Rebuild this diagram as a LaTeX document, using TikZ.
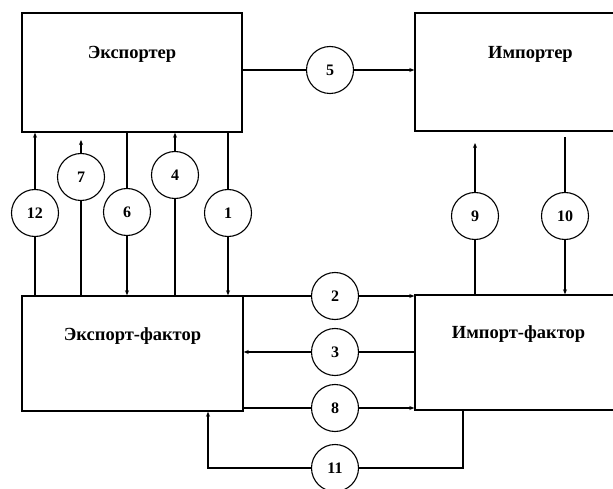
\documentclass[tikz,border=0pt]{standalone}
\usepackage{fontspec}
\setmainfont{Liberation Serif}
\usetikzlibrary{arrows.meta}
\begin{document}
\begin{tikzpicture}[x=1pt,y=-1pt,
  box/.style={draw, line width=1.4pt, rectangle, inner sep=0pt},
  lbl/.style={font=\bfseries\fontsize{18.5}{21}\selectfont, anchor=center},
  num/.style={draw, line width=1.1pt, circle, minimum size=47pt, inner sep=0pt, fill=white,
    font=\bfseries\fontsize{16}{18}\selectfont},
  conn/.style={line width=1.3pt},
  arr/.style={line width=1.3pt, -{Stealth[length=5pt,width=4pt]}}]
\clip (0,0) rectangle (613,489);
\fill[white] (0,0) rectangle (613,489);
% boxes
\node[box, minimum width=220pt, minimum height=119pt,
  label={[lbl, yshift=-42pt]north:Экспортер}] (exp) at (132,72.5) {};
\node[box, minimum width=235pt, minimum height=118pt,
  label={[lbl, yshift=-42pt, xshift=-2pt]north:Импортер}] (imp) at (532.5,72) {};
\node[box, minimum width=221pt, minimum height=115pt,
  label={[lbl, yshift=-41pt]north:Экспорт-фактор}] (ef) at (132.5,353.5) {};
\node[box, minimum width=235pt, minimum height=115pt,
  label={[lbl, yshift=-40pt, xshift=-14pt]north:Импорт-фактор}] (if) at (532.5,352.5) {};
% circles
\node[num] (c5) at (330,70) {5};
\node[num] (c12) at (35,213) {12};
\node[num] (c7) at (81,177) {7};
\node[num] (c6) at (127,212) {6};
\node[num] (c4) at (175,175) {4};
\node[num] (c1) at (228,213) {1};
\node[num] (c9) at (475,216) {9};
\node[num] (c10) at (565,216) {10};
\node[num] (c2) at (335,296) {2};
\node[num] (c3) at (335,352) {3};
\node[num] (c8) at (335,408) {8};
\node[num] (c11) at (335,468) {11};
\coordinate (a7) at (81,140);
\coordinate (a9) at (475,143);
\coordinate (a10) at (565,137);
\coordinate (k1) at (463,0);
\coordinate (k2) at (208,0);
% connectors
\draw[conn] (exp.east |- c5) -- (c5);
\draw[arr] (c5) -- (c5 -| imp.west);
\draw[conn] (c12 |- ef.north) -- (c12);
\draw[arr] (c12) -- (c12 |- exp.south);
\draw[conn] (c7 |- ef.north) -- (c7);
\draw[arr] (c7) -- (a7);
\draw[conn] (c6 |- exp.south) -- (c6);
\draw[arr] (c6) -- (c6 |- ef.north);
\draw[conn] (c4 |- ef.north) -- (c4);
\draw[arr] (c4) -- (c4 |- exp.south);
\draw[conn] (c1 |- exp.south) -- (c1);
\draw[arr] (c1) -- (c1 |- ef.north);
\draw[conn] (c9 |- if.north) -- (c9);
\draw[arr] (c9) -- (a9);
\draw[conn] (a10) -- (c10);
\draw[arr] (c10) -- (c10 |- if.north);
\draw[conn] (c2 -| ef.east) -- (c2);
\draw[arr] (c2) -- (c2 -| if.west);
\draw[conn] (c3 -| if.west) -- (c3);
\draw[arr] (c3) -- (c3 -| ef.east);
\draw[conn] (c8 -| ef.east) -- (c8);
\draw[arr] (c8) -- (c8 -| if.west);
\draw[conn] (k1 |- if.south) -- (k1 |- c11) -- (c11);
\draw[arr] (c11) -- (k2 |- c11) -- (k2 |- ef.south);
\end{tikzpicture}
\end{document}
